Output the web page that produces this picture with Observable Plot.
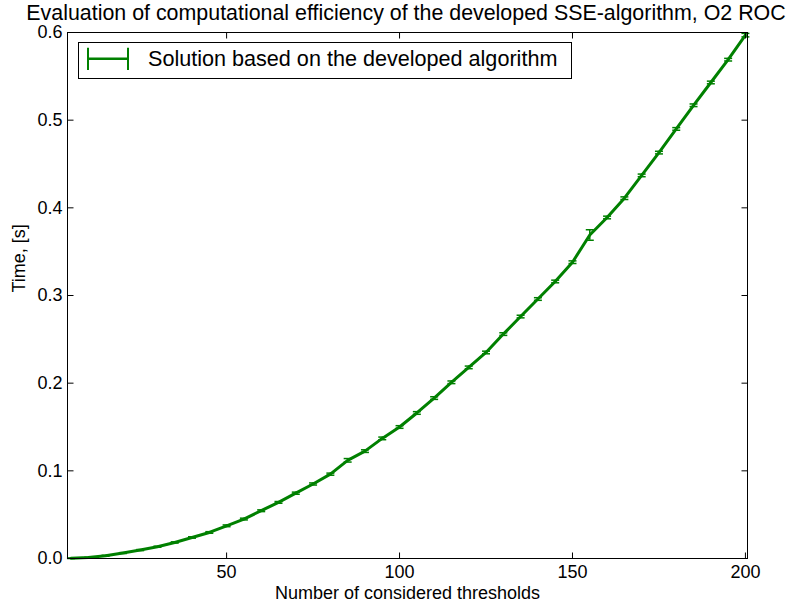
<!DOCTYPE html>
<html><head><meta charset="utf-8">
<script src="https://cdn.jsdelivr.net/npm/d3@7"></script>
<script src="https://cdn.jsdelivr.net/npm/@observablehq/plot@0.6"></script>
<style>
body{margin:0;background:#fff;font-family:"Liberation Sans",Arial,Helvetica,sans-serif;}
#wrap{position:relative;width:803px;height:610px;background:#fff;}
#title{position:absolute;top:6px;left:406px;transform:translateX(-50%);white-space:nowrap;font-size:21.4px;line-height:0.7;color:#000;}
#legend{position:absolute;left:78px;top:42px;width:494px;height:37px;box-sizing:border-box;border:1px solid #000;background:#fff;}
#legend span{position:absolute;left:69px;top:5px;font-size:21.6px;line-height:1;white-space:nowrap;color:#000;}
#legend svg{position:absolute;left:0;top:0;}
</style>
</head><body>
<div id="wrap">
<div id="chart"></div>
<div id="title">Evaluation of computational efficiency of the developed SSE-algorithm, O2 ROC</div>
<div id="legend"><svg width="60" height="35"><g stroke="#008000" fill="none"><line x1="9" y1="15.8" x2="49" y2="15.8" stroke-width="2.5"/><line x1="9" y1="4.7" x2="9" y2="27" stroke-width="2"/><line x1="49" y1="4.7" x2="49" y2="27" stroke-width="2"/></g></svg><span>Solution based on the developed algorithm</span></div>
</div>
<script>
const thresholds = [5,10,15,20,25,30,35,40,45,50,55,60,65,70,75,80,85,90,95,100,105,110,115,120,125,130,135,140,145,150,155,160,165,170,175,180,185,190,195,200];
const times = [0.0003,0.0011,0.0031,0.0062,0.0096,0.0134,0.0183,0.024,0.0297,0.0373,0.045,0.0545,0.064,0.0745,0.085,0.0962,0.112,0.1225,0.137,0.150,0.166,0.183,0.201,0.218,0.235,0.256,0.276,0.296,0.316,0.338,0.369,0.389,0.411,0.437,0.463,0.490,0.517,0.543,0.569,0.597];
const errors = [0.0003,0.0004,0.0005,0.0005,0.0006,0.0006,0.0007,0.0008,0.0009,0.001,0.001,0.001,0.001,0.0012,0.0012,0.0012,0.002,0.0015,0.0015,0.0015,0.0015,0.0015,0.0015,0.0015,0.0015,0.0015,0.0015,0.0015,0.0015,0.0015,0.006,0.0015,0.0015,0.0015,0.0015,0.0015,0.0015,0.0015,0.0015,0.002];
const xTicks = [50,100,150,200];
const yTicks = [0,0.1,0.2,0.3,0.4,0.5,0.6];
const xLabel = "Number of considered thresholds";
const yLabel = "Time, [s]";

const data = thresholds.map((t,i)=>({x:t, y:times[i], e:errors[i]}));
const green = "#008000";

const sym = (x1,y1,x2,y2)=>({draw(ctx){ctx.moveTo(x1,y1);ctx.lineTo(x2,y2);}});
const capSym = sym(-4,0,4,0);
const tickUp = sym(0,0,0,-6);
const tickDown = sym(0,0,0,6);
const tickRight = sym(0,0,6,0);
const tickLeft = sym(0,0,-6,0);

const chart = Plot.plot({
  width: 803,
  height: 610,
  marginLeft: 67,
  marginRight: 56,
  marginTop: 32,
  marginBottom: 52,
  style: {fontFamily: '"Liberation Sans", Arial, sans-serif', fontSize: "18px", color: "black", background: "white"},
  x: {domain: [4, 200.6]},
  y: {domain: [0, 0.6]},
  marks: [
    Plot.axisX({ticks: xTicks, tickSize: 0, tickPadding: 7, fontSize: 18, label: null}),
    Plot.axisY({ticks: yTicks, tickFormat: d3.format(".1f"), tickSize: 0, tickPadding: 5, fontSize: 18, label: null}),
    Plot.line(data, {x: "x", y: "y", stroke: green, strokeWidth: 3}),
    Plot.ruleX(data, {x: "x", y1: d=>d.y-d.e, y2: d=>d.y+d.e, stroke: green, strokeWidth: 1.5}),
    Plot.dot(data, {x: "x", y: d=>d.y+d.e, symbol: capSym, stroke: green, fill: "none", strokeWidth: 1.5}),
    Plot.dot(data, {x: "x", y: d=>d.y-d.e, symbol: capSym, stroke: green, fill: "none", strokeWidth: 1.5}),
    Plot.frame({stroke: "black", strokeWidth: 1}),
    Plot.dot(xTicks, {x: d=>d, frameAnchor: "bottom", symbol: tickUp, stroke: "black", fill: "none", strokeWidth: 1}),
    Plot.dot(xTicks, {x: d=>d, frameAnchor: "top", symbol: tickDown, stroke: "black", fill: "none", strokeWidth: 1}),
    Plot.dot(yTicks, {y: d=>d, frameAnchor: "left", symbol: tickRight, stroke: "black", fill: "none", strokeWidth: 1}),
    Plot.dot(yTicks, {y: d=>d, frameAnchor: "right", symbol: tickLeft, stroke: "black", fill: "none", strokeWidth: 1}),
    Plot.text([xLabel], {text: d=>d, frameAnchor: "bottom", dy: 40, fontSize: 18, fill: "black"}),
    Plot.text([yLabel], {text: d=>d, frameAnchor: "left", dx: -48, dy: -3, rotate: -90, fontSize: 18, fill: "black"})
  ]
});
document.getElementById("chart").appendChild(chart);
</script>
</body></html>
